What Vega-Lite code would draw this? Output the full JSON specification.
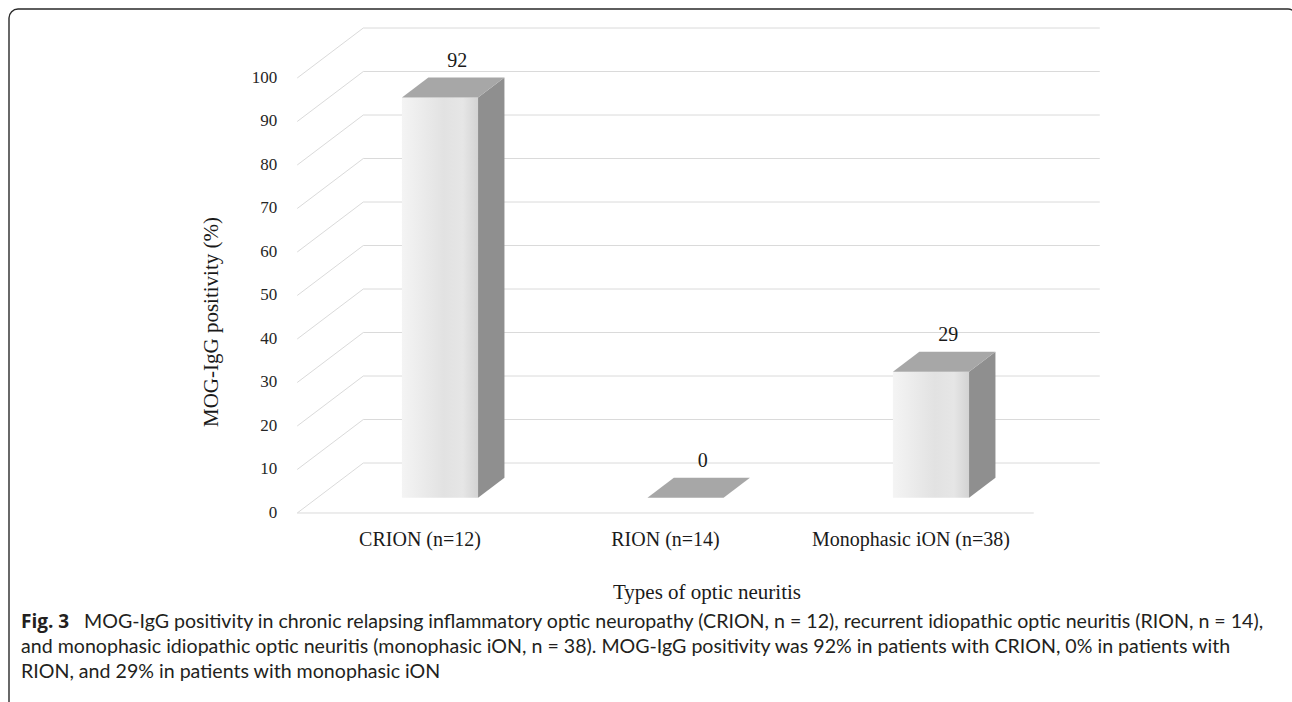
{
  "$schema": "https://vega.github.io/schema/vega-lite/v6.json",
  "width": 1292,
  "height": 702,
  "autosize": {"type": "none"},
  "padding": 0,
  "background": "#ffffff",
  "view": {"stroke": null},
  "datasets": {
    "bars": [
      {"type": "CRION (n=12)", "positivity": 92},
      {"type": "RION (n=14)", "positivity": 0},
      {"type": "Monophasic iON (n=38)", "positivity": 29}
    ],
    "ticks": [
      {"tick": 0}, {"tick": 10}, {"tick": 20}, {"tick": 30}, {"tick": 40}, {"tick": 50},
      {"tick": 60}, {"tick": 70}, {"tick": 80}, {"tick": 90}, {"tick": 100}
    ]
  },
  "layer": [
    {
      "data": {"values": [{"frame": "border"}]},
      "mark": {"type": "rect", "fill": null, "stroke": "#2a2a2a", "strokeWidth": 1.4, "cornerRadius": 9, "clip": true},
      "encoding": {
        "x": {"datum": -1.67413, "type": "quantitative", "scale": {"domain": [-1.71079, 3.55193], "nice": false, "zero": false}, "axis": null},
        "x2": {"datum": 3.5723},
        "y": {"datum": 115.862, "type": "quantitative", "scale": {"domain": [-43.4483, 117.931], "nice": false, "zero": false}, "axis": null},
        "y2": {"datum": -52.184}
      }
    },
    {
      "data": {"name": "ticks"},
      "transform": [{"calculate": "datum.tick + 11.49", "as": "back"}],
      "mark": {"type": "rule", "color": "#dadada", "strokeWidth": 1},
      "encoding": {
        "x": {"datum": -0.231, "type": "quantitative", "scale": {"domain": [-1.71079, 3.55193], "nice": false, "zero": false}, "axis": null},
        "x2": {"datum": 2.769},
        "y": {"field": "back", "type": "quantitative", "scale": {"domain": [-43.4483, 117.931], "nice": false, "zero": false}, "axis": null}
      }
    },
    {
      "data": {"name": "ticks"},
      "transform": [{"calculate": "datum.tick + 11.49", "as": "back"}],
      "mark": {"type": "rule", "color": "#dadada", "strokeWidth": 1},
      "encoding": {
        "x": {"datum": -0.5, "type": "quantitative", "scale": {"domain": [-1.71079, 3.55193], "nice": false, "zero": false}, "axis": null},
        "x2": {"datum": -0.231},
        "y": {"field": "tick", "type": "quantitative", "scale": {"domain": [-43.4483, 117.931], "nice": false, "zero": false}, "axis": null},
        "y2": {"field": "back"}
      }
    },
    {
      "data": {"name": "ticks"},
      "transform": [{"filter": "datum.tick == 0"}],
      "mark": {"type": "rule", "color": "#dadada", "strokeWidth": 1},
      "encoding": {
        "x": {"datum": -0.5, "type": "quantitative", "scale": {"domain": [-1.71079, 3.55193], "nice": false, "zero": false}, "axis": null},
        "x2": {"datum": 2.5},
        "y": {"field": "tick", "type": "quantitative", "scale": {"domain": [-43.4483, 117.931], "nice": false, "zero": false}, "axis": null}
      }
    },
    {
      "data": {"name": "ticks"},
      "mark": {"type": "text", "font": "Liberation Serif", "fontSize": 17, "color": "#262626", "baseline": "middle", "align": "right", "dx": -20},
      "encoding": {
        "x": {"datum": -0.5, "type": "quantitative", "scale": {"domain": [-1.71079, 3.55193], "nice": false, "zero": false}, "axis": null},
        "y": {"field": "tick", "type": "quantitative", "scale": {"domain": [-43.4483, 117.931], "nice": false, "zero": false}, "axis": null},
        "text": {"field": "tick", "type": "quantitative"}
      }
    },
    {
      "data": {"name": "bars"},
      "transform": [
        {"window": [{"op": "row_number", "as": "rn"}]},
        {"calculate": "datum.rn - 1", "as": "idx"},
        {"calculate": "datum.idx + 0.0815 - 0.155", "as": "fx0"},
        {"calculate": "datum.idx + 0.0815 + 0.155", "as": "fx1"},
        {"calculate": "3.49", "as": "fy0"},
        {"calculate": "datum.positivity + 3.49", "as": "fy1"}
      ],
      "mark": {"type": "rect", "color": {"gradient": "linear", "x1": 0, "x2": 1, "y1": 0, "y2": 0,
        "stops": [{"offset": 0, "color": "#f4f4f4"}, {"offset": 0.55, "color": "#e2e2e2"}, {"offset": 0.8, "color": "#e6e6e6"}, {"offset": 1, "color": "#d3d3d3"}]}},
      "encoding": {
        "x": {"field": "fx0", "type": "quantitative", "scale": {"domain": [-1.71079, 3.55193], "nice": false, "zero": false}, "axis": null},
        "x2": {"field": "fx1"},
        "y": {"field": "fy1", "type": "quantitative", "scale": {"domain": [-43.4483, 117.931], "nice": false, "zero": false}, "axis": null},
        "y2": {"field": "fy0"}
      }
    },
    {
      "data": {"name": "bars"},
      "transform": [
        {"window": [{"op": "row_number", "as": "rn"}]},
        {"calculate": "datum.rn - 1", "as": "idx"},
        {"calculate": "[0, 1]", "as": "e"},
        {"flatten": ["e"]},
        {"calculate": "datum.idx + 0.0815 + 0.155 + datum.e * 0.1075", "as": "sx"},
        {"calculate": "3.49 + datum.e * 4.6", "as": "sy0"},
        {"calculate": "datum.positivity + 3.49 + datum.e * 4.6", "as": "sy1"}
      ],
      "mark": {"type": "area", "orient": "vertical", "color": "#8f8f8f"},
      "encoding": {
        "x": {"field": "sx", "type": "quantitative", "scale": {"domain": [-1.71079, 3.55193], "nice": false, "zero": false}, "axis": null},
        "y": {"field": "sy1", "type": "quantitative", "stack": null, "scale": {"domain": [-43.4483, 117.931], "nice": false, "zero": false}, "axis": null},
        "y2": {"field": "sy0"},
        "detail": {"field": "type"}
      }
    },
    {
      "data": {"name": "bars"},
      "transform": [
        {"window": [{"op": "row_number", "as": "rn"}]},
        {"calculate": "datum.rn - 1", "as": "idx"},
        {"calculate": "[0, 1]", "as": "e"},
        {"flatten": ["e"]},
        {"calculate": "datum.idx + 0.0815 - 0.155 + datum.e * 0.1075", "as": "tx0"},
        {"calculate": "datum.idx + 0.0815 + 0.155 + datum.e * 0.1075", "as": "tx1"},
        {"calculate": "datum.positivity + 3.49 + datum.e * 4.6", "as": "ty"}
      ],
      "mark": {"type": "area", "orient": "horizontal", "color": "#a7a7a7"},
      "encoding": {
        "y": {"field": "ty", "type": "quantitative", "scale": {"domain": [-43.4483, 117.931], "nice": false, "zero": false}, "axis": null},
        "x": {"field": "tx0", "type": "quantitative", "stack": null, "scale": {"domain": [-1.71079, 3.55193], "nice": false, "zero": false}, "axis": null},
        "x2": {"field": "tx1"},
        "detail": {"field": "type"}
      }
    },
    {
      "data": {"name": "bars"},
      "transform": [
        {"window": [{"op": "row_number", "as": "rn"}]},
        {"calculate": "datum.rn - 1", "as": "idx"},
        {"calculate": "datum.idx + 0.0815 + 0.0538", "as": "lx"},
        {"calculate": "datum.positivity + 3.49 + 2.3", "as": "ly"}
      ],
      "mark": {"type": "text", "font": "Liberation Serif", "fontSize": 20, "color": "#1a1a1a", "baseline": "middle", "align": "center", "dx": 4, "dy": -27},
      "encoding": {
        "x": {"field": "lx", "type": "quantitative", "scale": {"domain": [-1.71079, 3.55193], "nice": false, "zero": false}, "axis": null},
        "y": {"field": "ly", "type": "quantitative", "scale": {"domain": [-43.4483, 117.931], "nice": false, "zero": false}, "axis": null},
        "text": {"field": "positivity", "type": "quantitative"}
      }
    },
    {
      "data": {"name": "bars"},
      "transform": [
        {"window": [{"op": "row_number", "as": "rn"}]},
        {"calculate": "datum.rn - 1", "as": "idx"}
      ],
      "mark": {"type": "text", "font": "Liberation Serif", "fontSize": 20, "color": "#1a1a1a", "baseline": "middle", "align": "center", "dy": 27},
      "encoding": {
        "x": {"field": "idx", "type": "quantitative", "scale": {"domain": [-1.71079, 3.55193], "nice": false, "zero": false}, "axis": null},
        "y": {"datum": 0, "type": "quantitative", "scale": {"domain": [-43.4483, 117.931], "nice": false, "zero": false}, "axis": null},
        "text": {"field": "type", "type": "nominal"}
      }
    },
    {
      "data": {"values": [{"label": "Types of optic neuritis"}]},
      "mark": {"type": "text", "font": "Liberation Serif", "fontSize": 21, "color": "#1a1a1a", "baseline": "middle", "align": "center"},
      "encoding": {
        "x": {"datum": 1.169, "type": "quantitative", "scale": {"domain": [-1.71079, 3.55193], "nice": false, "zero": false}, "axis": null},
        "y": {"datum": -18.39, "type": "quantitative", "scale": {"domain": [-43.4483, 117.931], "nice": false, "zero": false}, "axis": null},
        "text": {"field": "label", "type": "nominal"}
      }
    },
    {
      "data": {"values": [{"label": "MOG-IgG positivity (%)"}]},
      "mark": {"type": "text", "font": "Liberation Serif", "fontSize": 21, "color": "#1a1a1a", "baseline": "middle", "align": "center", "angle": 270},
      "encoding": {
        "x": {"datum": -0.847, "type": "quantitative", "scale": {"domain": [-1.71079, 3.55193], "nice": false, "zero": false}, "axis": null},
        "y": {"datum": 43.9, "type": "quantitative", "scale": {"domain": [-43.4483, 117.931], "nice": false, "zero": false}, "axis": null},
        "text": {"field": "label", "type": "nominal"}
      }
    },
    {
      "data": {"values": [{"label": "Fig. 3"}]},
      "mark": {"type": "text", "font": "Open Sans", "fontSize": 19, "fontWeight": "bold", "color": "#231f20", "baseline": "middle", "align": "left"},
      "encoding": {
        "x": {"datum": -1.62525, "type": "quantitative", "scale": {"domain": [-1.71079, 3.55193], "nice": false, "zero": false}, "axis": null},
        "y": {"datum": -25.057, "type": "quantitative", "scale": {"domain": [-43.4483, 117.931], "nice": false, "zero": false}, "axis": null},
        "text": {"field": "label", "type": "nominal"}
      }
    },
    {
      "data": {"values": [
        {"line": "MOG-IgG positivity in chronic relapsing inflammatory optic neuropathy (CRION, n = 12), recurrent idiopathic optic neuritis (RION, n = 14),", "pos": -25.057, "start": -1.36864},
        {"line": "and monophasic idiopathic optic neuritis (monophasic iON, n = 38). MOG-IgG positivity was 92% in patients with CRION, 0% in patients with", "pos": -30.805, "start": -1.62525},
        {"line": "RION, and 29% in patients with monophasic iON", "pos": -36.552, "start": -1.62525}
      ]},
      "mark": {"type": "text", "font": "Lato", "fontSize": 19.6, "color": "#231f20", "baseline": "middle", "align": "left"},
      "encoding": {
        "x": {"field": "start", "type": "quantitative", "scale": {"domain": [-1.71079, 3.55193], "nice": false, "zero": false}, "axis": null},
        "y": {"field": "pos", "type": "quantitative", "scale": {"domain": [-43.4483, 117.931], "nice": false, "zero": false}, "axis": null},
        "text": {"field": "line", "type": "nominal"}
      }
    }
  ]
}
